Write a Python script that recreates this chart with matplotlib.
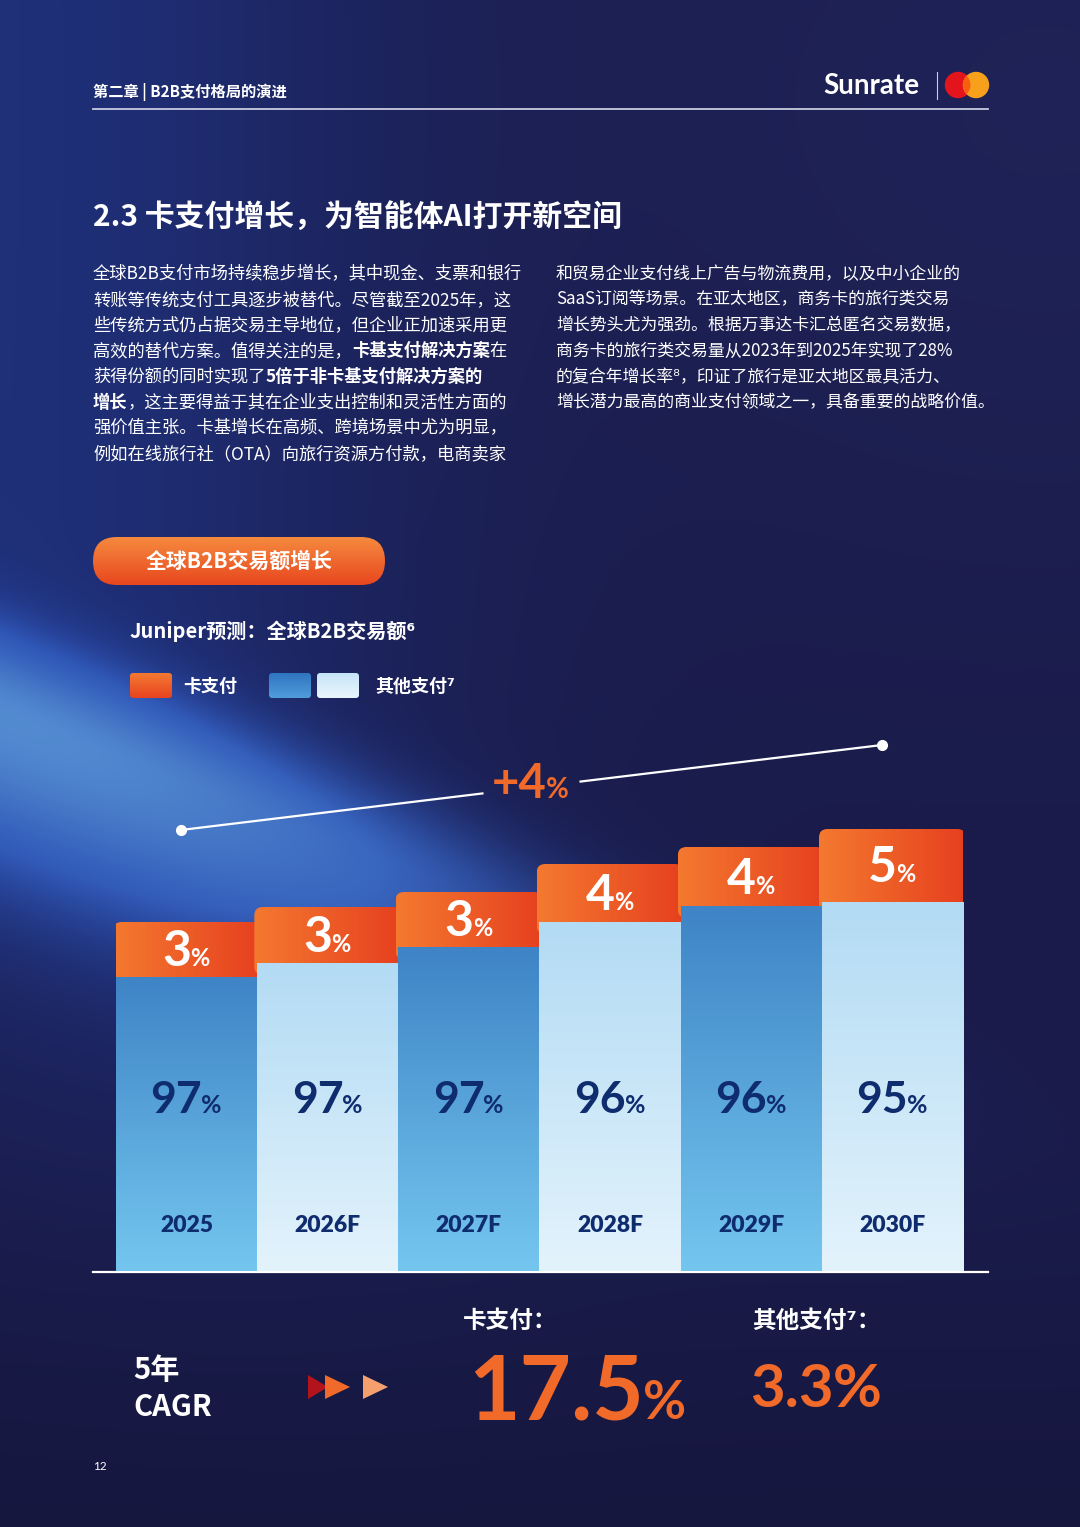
import matplotlib.pyplot as plt
import numpy as np
from matplotlib.colors import LinearSegmentedColormap
from matplotlib.patches import Circle, FancyBboxPatch, Polygon
from matplotlib.transforms import offset_copy

W, H = 1080, 1527
CJK = ["Noto Sans CJK SC", "DejaVu Sans"]
NUM = ["Lato", "Noto Sans CJK SC", "DejaVu Sans"]

ORANGE = "#f26a2a"
NAVY_TXT = "#0f2c6e"

# ---- data ----
years = ["2025", "2026F", "2027F", "2028F", "2029F", "2030F"]
card_share = [3, 3, 3, 4, 4, 5]
other_share = [97, 97, 97, 96, 96, 95]
# bar heights as drawn (relative volume units)
bar_total = [349, 364, 379, 407, 424, 442]
card_part = [55, 56, 55, 58, 59, 73]
trend_change = 4
cagr_names = ["卡支付：", "其他支付⁷："]
cagr_values = ["17.5", "3.3"]

title = "2.3 卡支付增长，为智能体AI打开新空间"
left_lines = [
    [("全球B2B支付市场持续稳步增长，其中现金、支票和银行", False)],
    [("转账等传统支付工具逐步被替代。尽管截至2025年，这", False)],
    [("些传统方式仍占据交易主导地位，但企业正加速采用更", False)],
    [("高效的替代方案。值得关注的是，", False), ("卡基支付解决方案", True), ("在", False)],
    [("获得份额的同时实现了", False), ("5倍于非卡基支付解决方案的", True)],
    [("增长", True), ("，这主要得益于其在企业支出控制和灵活性方面的", False)],
    [("强价值主张。卡基增长在高频、跨境场景中尤为明显，", False)],
    [("例如在线旅行社（OTA）向旅行资源方付款，电商卖家", False)],
]
right_lines = [
    [("和贸易企业支付线上广告与物流费用，以及中小企业的", False)],
    [("SaaS订阅等场景。在亚太地区，商务卡的旅行类交易", False)],
    [("增长势头尤为强劲。根据万事达卡汇总匿名交易数据，", False)],
    [("商务卡的旅行类交易量从2023年到2025年实现了28%", False)],
    [("的复合年增长率⁸，印证了旅行是亚太地区最具活力、", False)],
    [("增长潜力最高的商业支付领域之一，具备重要的战略价值。", False)],
]

fig = plt.figure(figsize=(W / 100, H / 100), dpi=100)
page = fig.add_axes([0, 0, 1, 1])
page.set_xlim(0, W)
page.set_ylim(H, 0)
page.axis("off")
renderer = fig.canvas.get_renderer()


def rgb(h):
    h = h.lstrip("#")
    return np.array([int(h[i:i + 2], 16) for i in (0, 2, 4)]) / 255


# ---- background with diagonal light beam ----
yy, xx = np.mgrid[0:H:382j, 0:W:270j]
col = np.ones(yy.shape + (3,)) * rgb("#1a1b4a")
lift = np.exp(-(((xx - 1050) / 550) ** 2 + ((yy - 100) / 500) ** 2))
col += lift[..., None] * (rgb("#232860") - col) * 0.55
col *= (1 - 0.15 * np.clip((yy - 1150) / 377, 0, 1))[..., None]
slope = 0.4
d = (yy - (715 + slope * xx)) / np.sqrt(1 + slope ** 2)
wid = np.where(d < 0, 75, 130)
fade = np.exp(-(np.clip(xx, 0, None) / 500) ** 2)
beam = np.exp(-(d / wid) ** 2) * fade
glow = np.exp(-(np.clip(d, 0, None) / 330) ** 2) * np.exp(-(xx / 380) ** 2) * 0.45
col += (rgb("#2548b0") - col) * np.clip(1.5 * beam + glow, 0, 1)[..., None]
col += (rgb("#558ed2") - col) * (beam ** 1.4)[..., None] * 0.95
page.imshow(np.clip(col, 0, 1), extent=(0, W, H, 0), aspect="auto",
            interpolation="bilinear", zorder=0)


def grad_fill(ax, patch, c0, c1, horizontal=False):
    """Fill a patch with a linear gradient (c0 top/left -> c1 bottom/right)."""
    cmap = LinearSegmentedColormap.from_list("g", [c0, c1])
    g = np.linspace(0, 1, 128)
    g = g.reshape(1, -1) if horizontal else g.reshape(-1, 1)
    bb = patch.get_path().get_extents(patch.get_patch_transform())
    ext = (bb.x0, bb.x1, bb.y0, bb.y1)
    if ax.yaxis_inverted():
        ext = (bb.x0, bb.x1, bb.y1, bb.y0)
    im = ax.imshow(g, cmap=cmap, extent=ext, aspect="auto", origin="upper",
                   interpolation="bilinear", zorder=patch.get_zorder())
    im.set_clip_path(patch)
    return im


def num_pct(ax, x, y, num, size, pct_size, color, ha="center", transform=None):
    """Big number followed by a smaller % sign, sharing one baseline."""
    tr = transform or ax.transData
    kw = dict(color=color, fontweight="bold", family=NUM, va="baseline", ha="left")
    t1 = ax.text(x, y, num, fontsize=size, transform=tr, **kw)
    t2 = ax.text(x, y, "%", fontsize=pct_size, transform=tr, **kw)
    w1 = t1.get_window_extent(renderer).width
    w2 = t2.get_window_extent(renderer).width
    x0 = -(w1 + w2) / 2 if ha == "center" else 0
    t1.set_transform(offset_copy(tr, fig=fig, x=x0, units="dots"))
    t2.set_transform(offset_copy(tr, fig=fig, x=x0 + w1 - 1, units="dots"))


def rich_line(ax, x, y, segments, size, color="white"):
    dx = 0
    for seg, bold in segments:
        t = ax.text(x, y, seg, fontsize=size, color=color, family=CJK,
                    fontweight="bold" if bold else "normal", va="baseline", ha="left",
                    transform=offset_copy(ax.transData, fig=fig, x=dx, units="dots"))
        dx += t.get_window_extent(renderer).width


# ---- header ----
page.text(93, 92, "第二章 | B2B支付格局的演进", color="white", fontsize=11,
          fontweight="bold", family=CJK, va="center")
page.plot([93, 988], [109, 109], color="#c9cbe0", lw=1.3)
page.text(823, 86, "Sunrate", color="white", fontsize=20, family=NUM,
          fontweight="bold", va="center")
page.plot([937, 937], [72, 99], color="#c9cbe0", lw=0.8)
red = Circle((958, 85), 12.5, color="#e3141c", zorder=3)
yel = Circle((976, 85), 12.5, color="#f7a01b", zorder=3)
page.add_patch(red)
page.add_patch(yel)
mid = Circle((976, 85), 12.5, color="#f55f0f", zorder=4)
page.add_patch(mid)
mid.set_clip_path(red)

# ---- title and paragraphs ----
page.text(93, 217, title, color="white", fontsize=21.5, fontweight="bold",
          family=CJK, va="center")
for i, segs in enumerate(left_lines):
    rich_line(page, 93, 279 + i * 25.7, segs, 12.45)
for i, segs in enumerate(right_lines):
    rich_line(page, 556, 279 + i * 25.7, segs, 12.2)

# ---- pill label ----
pill = FancyBboxPatch((93, 537), 292, 48, boxstyle="round,pad=0,rounding_size=24",
                      fc="none", ec="none", zorder=3)
page.add_patch(pill)
grad_fill(page, pill, "#f58a3e", "#e8471f")
page.text(239, 561, "全球B2B交易额增长", color="white", fontsize=15,
          fontweight="bold", family=CJK, ha="center", va="center", zorder=5)

page.text(130, 631, "Juniper预测：全球B2B交易额⁶", color="white", fontsize=14.5,
          fontweight="bold", family=CJK, va="center")

# ---- legend ----
for (x0, c0, c1) in [(130, "#f47a32", "#e8431f"), (269, "#2f74c0", "#4f9ddb"),
                     (317, "#c5e4f8", "#eaf6fd")]:
    sq = FancyBboxPatch((x0, 673), 42, 25, boxstyle="round,pad=0,rounding_size=3",
                        fc="none", ec="none", zorder=3)
    page.add_patch(sq)
    grad_fill(page, sq, c0, c1)
page.text(183, 686, "卡支付", color="white", fontsize=13, fontweight="bold",
          family=CJK, va="center")
page.text(375, 686, "其他支付⁷", color="white", fontsize=13, fontweight="bold",
          family=CJK, va="center")

# ---- bar chart ----
ax = fig.add_axes([116 / W, (H - 1271) / H, 847 / W, 471 / H])
ax.patch.set_alpha(0)
ax.axis("off")
x = np.arange(len(years))
other_part = np.array(bar_total) - np.array(card_part)
px_per_x = 847 / len(years)

caps = ax.bar(x, card_part, bottom=other_part, width=1.0, color="none", lw=0)
for b in caps:
    cap = FancyBboxPatch((b.get_x() - 0.02, b.get_y() - 12), b.get_width() + 0.04,
                         b.get_height() + 12, boxstyle="round,pad=0,rounding_size=0.06",
                         mutation_aspect=px_per_x, fc="none", ec="none", zorder=2)
    ax.add_patch(cap)
    grad_fill(ax, cap, "#f4792f", "#e6401f", horizontal=True)

bars = ax.bar(x, other_part, width=1.0, color="none", lw=0, zorder=3)
for i, b in enumerate(bars):
    if i % 2 == 0:
        grad_fill(ax, b, "#3e84c6", "#74c6ef")
    else:
        grad_fill(ax, b, "#b3dbf4", "#e3f3fc")

for i in range(len(years)):
    num_pct(ax, x[i], other_part[i] + card_part[i] / 2 - 17, str(card_share[i]),
            36, 17, "white")
    num_pct(ax, x[i], 158, str(other_share[i]), 32, 18, NAVY_TXT)
    ax.text(x[i], 46, years[i], color=NAVY_TXT, fontsize=16.5, fontweight="heavy",
            family=NUM, ha="center", va="center", zorder=5)
for t in ax.texts:
    t.set_zorder(5)
ax.set_xlim(-0.5, len(years) - 0.5)
ax.set_ylim(0, 471)

page.plot([93, 988], [1271.5, 1271.5], color="white", lw=1.6, zorder=5)

# ---- trend annotation ----
p0, p1 = np.array([181, 830]), np.array([882, 745])
for a, b in [(0.0, 0.43), (0.57, 1.0)]:
    seg = np.array([p0 + (p1 - p0) * a, p0 + (p1 - p0) * b])
    page.plot(seg[:, 0], seg[:, 1], color="white", lw=1.6, zorder=4)
page.plot([p0[0], p1[0]], [p0[1], p1[1]], "o", color="white", ms=7, lw=0, zorder=4)
num_pct(page, 531, 798, f"+{trend_change}", 34, 20, ORANGE, transform=page.transData)

# ---- CAGR footer ----
page.text(133, 1370, "5年", color="white", fontsize=21, fontweight="bold",
          family=CJK, va="center")
page.text(133, 1407, "CAGR", color="white", fontsize=21, fontweight="bold",
          family=CJK, va="center")
for xl, w, c in [(308, 20, "#b3141b"), (325, 25, ORANGE), (363, 25, "#f4a06e")]:
    page.add_patch(Polygon([[xl, 1375], [xl + w, 1387], [xl, 1399]], closed=True,
                           color=c, lw=0, zorder=3))
page.text(463, 1321, cagr_names[0], color="white", fontsize=17, fontweight="bold",
          family=CJK, va="center")
page.text(752, 1321, cagr_names[1], color="white", fontsize=17, fontweight="bold",
          family=CJK, va="center")
num_pct(page, 468, 1419, cagr_values[0], 64, 38, ORANGE, ha="left",
        transform=page.transData)
num_pct(page, 750, 1407, cagr_values[1], 43, 43, ORANGE, ha="left",
        transform=page.transData)

page.text(93, 1467, "12", color="white", fontsize=8.5, family=NUM, va="center")

fig.savefig("out.png", dpi=100)
